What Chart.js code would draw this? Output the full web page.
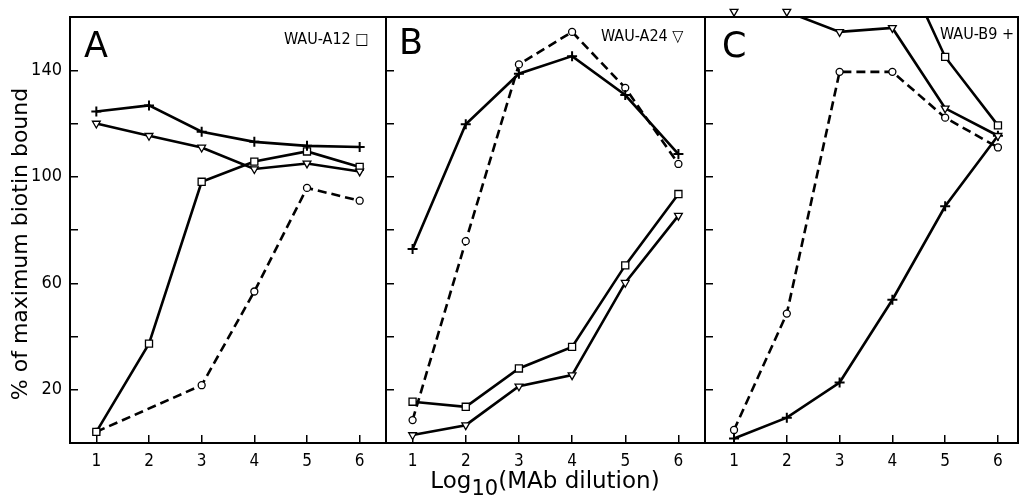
<!DOCTYPE html>
<html>
<head>
<meta charset="utf-8">
<script src="https://cdn.jsdelivr.net/npm/chart.js@4.4.1/dist/chart.umd.min.js"></script>
<style>
  body { margin: 0; background: #fff; width: 1021px; height: 500px; overflow: hidden; position: relative; font-family: "DejaVu Sans", sans-serif; }
  canvas { position: absolute; left: 0; top: 0; }
  .lbl { position: absolute; color: #000; white-space: nowrap; line-height: 1; }
  .panel { font-size: 35px; }
  .tag { font-size: 16px; font-family: "DejaVu Sans Condensed", "DejaVu Sans", sans-serif; }
  #ytitle { left: -180px; top: 233px; width: 400px; text-align: center; font-size: 22px; transform: rotate(-90deg); }
  #xtitle { left: 345px; top: 469px; width: 400px; text-align: center; font-size: 23px; }
  #xtitle sub { font-size: 21px; vertical-align: -7px; line-height: 0; }
</style>
</head>
<body>
<canvas id="panel-a" width="1021" height="500"></canvas>
<canvas id="panel-b" width="1021" height="500"></canvas>
<canvas id="panel-c" width="1021" height="500"></canvas>

<div class="lbl panel" style="left:84px;top:28px">A</div>
<div class="lbl panel" style="left:399px;top:25px">B</div>
<div class="lbl panel" style="left:722px;top:28px">C</div>
<div class="lbl tag" style="left:284px;top:31px">WAU-A12 □</div>
<div class="lbl tag" style="left:601px;top:28px">WAU-A24 ▽</div>
<div class="lbl tag" style="left:940px;top:26px">WAU-B9 +</div>
<div class="lbl" id="ytitle">% of maximum biotin bound</div>
<div class="lbl" id="xtitle">Log<sub>10</sub>(MAb dilution)</div>

<script>
const xTicks = [1, 2, 3, 4, 5, 6];
const yTicks = [20, 40, 60, 80, 100, 120, 140];
const yLabels = [20, 60, 100, 140];
const yMax = 160;

// panel A
const aPlus = [124.5, 126.8, 116.9, 113.1, 111.6, 111.2];
const aTri = [120, 115.4, 111, 102.9, 105, 102];
const aSquare = [4.2, 37.3, 98.1, 105.7, 109.5, 103.7];
const aCircle = [4.2, null, 21.7, 56.9, 95.8, 91];
// panel B
const bPlus = [72.9, 119.7, 138.7, 145.3, 130.7, 108.5];
const bCircle = [8.6, 75.8, 142.2, 154.4, 133.4, 104.8];
const bSquare = [15.5, 13.6, 28, 36.1, 66.7, 93.5];
const bTri = [3, 6.7, 21.3, 25.5, 60.2, 85.4];
// panel C
const cTri = [162, 162, 154.4, 155.9, 125.7, 115.4];
const cSquare = [null, null, null, 188, 145, 119.3];
const cCircle = [4.9, 48.6, 139.4, 139.4, 122.2, 111];
const cPlus = [1.7, 9.5, 22.7, 53.8, 88.9, 115.4];

const font = '"DejaVu Sans Condensed", "DejaVu Sans", sans-serif';

const markers = {
  plus: { pointStyle: 'cross', pointRadius: 5, pointBorderWidth: 2 },
  tri: { pointStyle: 'triangle', rotation: 180, pointRadius: 4.5, pointBorderWidth: 1.3 },
  square: { pointStyle: 'rect', pointRadius: 5, pointBorderWidth: 1.3 },
  circle: { pointStyle: 'circle', pointRadius: 3.5, pointBorderWidth: 1.3 }
};

function series(values, kind, dashed) {
  const pts = values.map((v, i) => ({ x: xTicks[i], y: v }));
  return {
    data: pts,
    borderColor: '#000',
    backgroundColor: '#fff',
    pointBackgroundColor: '#fff',
    pointBorderColor: '#000',
    borderWidth: 2.6,
    borderDash: dashed ? [9, 5] : [],
    spanGaps: true,
    tension: 0,
    ...markers[kind],
    pointRadius: values.map(v => (v != null && v > yMax) ? 0 : markers[kind].pointRadius)
  };
}

// markers of points that lie above the frame, drawn unclipped
function offScale(values, kind) {
  const pts = values.map((v, i) => ({ x: xTicks[i], y: v })).filter(p => p.y != null && p.y > yMax);
  return {
    data: pts,
    showLine: false,
    clip: false,
    pointBackgroundColor: '#fff',
    pointBorderColor: '#000',
    ...markers[kind]
  };
}

const frame = {
  id: 'frame',
  afterDatasetsDraw(chart) {
    const a = chart.chartArea, c = chart.ctx;
    c.save();
    c.strokeStyle = '#000';
    c.lineWidth = 2;
    c.strokeRect(a.left, a.top, a.right - a.left, a.bottom - a.top);
    c.restore();
  }
};

function panel(id, datasets, pad, showLabels, xMin, xMax) {
  return new Chart(document.getElementById(id), {
    type: 'line',
    data: { datasets: datasets },
    options: {
      responsive: false,
      animation: false,
      layout: { padding: pad, autoPadding: false },
      plugins: { legend: { display: false }, tooltip: { enabled: false } },
      scales: {
        x: {
          type: 'linear', min: xMin, max: xMax,
          afterBuildTicks: s => { s.ticks = xTicks.map(v => ({ value: v })); },
          afterFit: s => { s.height = 57; s.paddingLeft = 0; s.paddingRight = 0; },
          grid: { drawOnChartArea: false, tickLength: -8, color: '#000', lineWidth: 1.5 },
          border: { color: '#000', width: 2 },
          ticks: { color: '#000', padding: 16, font: { family: font, size: 17 }, callback: v => v }
        },
        y: {
          min: 0, max: yMax,
          afterBuildTicks: s => { s.ticks = yTicks.map(v => ({ value: v })); },
          afterFit: s => { s.width = showLabels ? 70 : 1; s.paddingTop = 0; s.paddingBottom = 0; },
          grid: { drawOnChartArea: false, tickLength: -8, color: '#000', lineWidth: 1.5 },
          border: { color: '#000', width: 2 },
          ticks: { color: '#000', padding: 16, font: { family: font, size: 18 },
                   callback: v => (showLabels && yLabels.includes(v)) ? v : '' }
        }
      }
    },
    plugins: [frame]
  });
}

panel('panel-a', [
  series(aPlus, 'plus'),
  series(aTri, 'tri'),
  series(aSquare, 'square'),
  series(aCircle, 'circle', true)
], { left: 0, top: 17, right: 635, bottom: 0 }, true, 0.5, 6.5);

panel('panel-b', [
  series(bPlus, 'plus'),
  series(bCircle, 'circle', true),
  series(bSquare, 'square'),
  series(bTri, 'tri')
], { left: 385, top: 17, right: 316, bottom: 0 }, false, 0.5, 6.5);

panel('panel-c', [
  series(cTri, 'tri'),
  offScale(cTri, 'tri'),
  series(cSquare, 'square'),
  series(cCircle, 'circle', true),
  series(cPlus, 'plus')
], { left: 704, top: 17, right: 3, bottom: 0 }, false, 0.45, 6.38);
</script>
</body>
</html>
